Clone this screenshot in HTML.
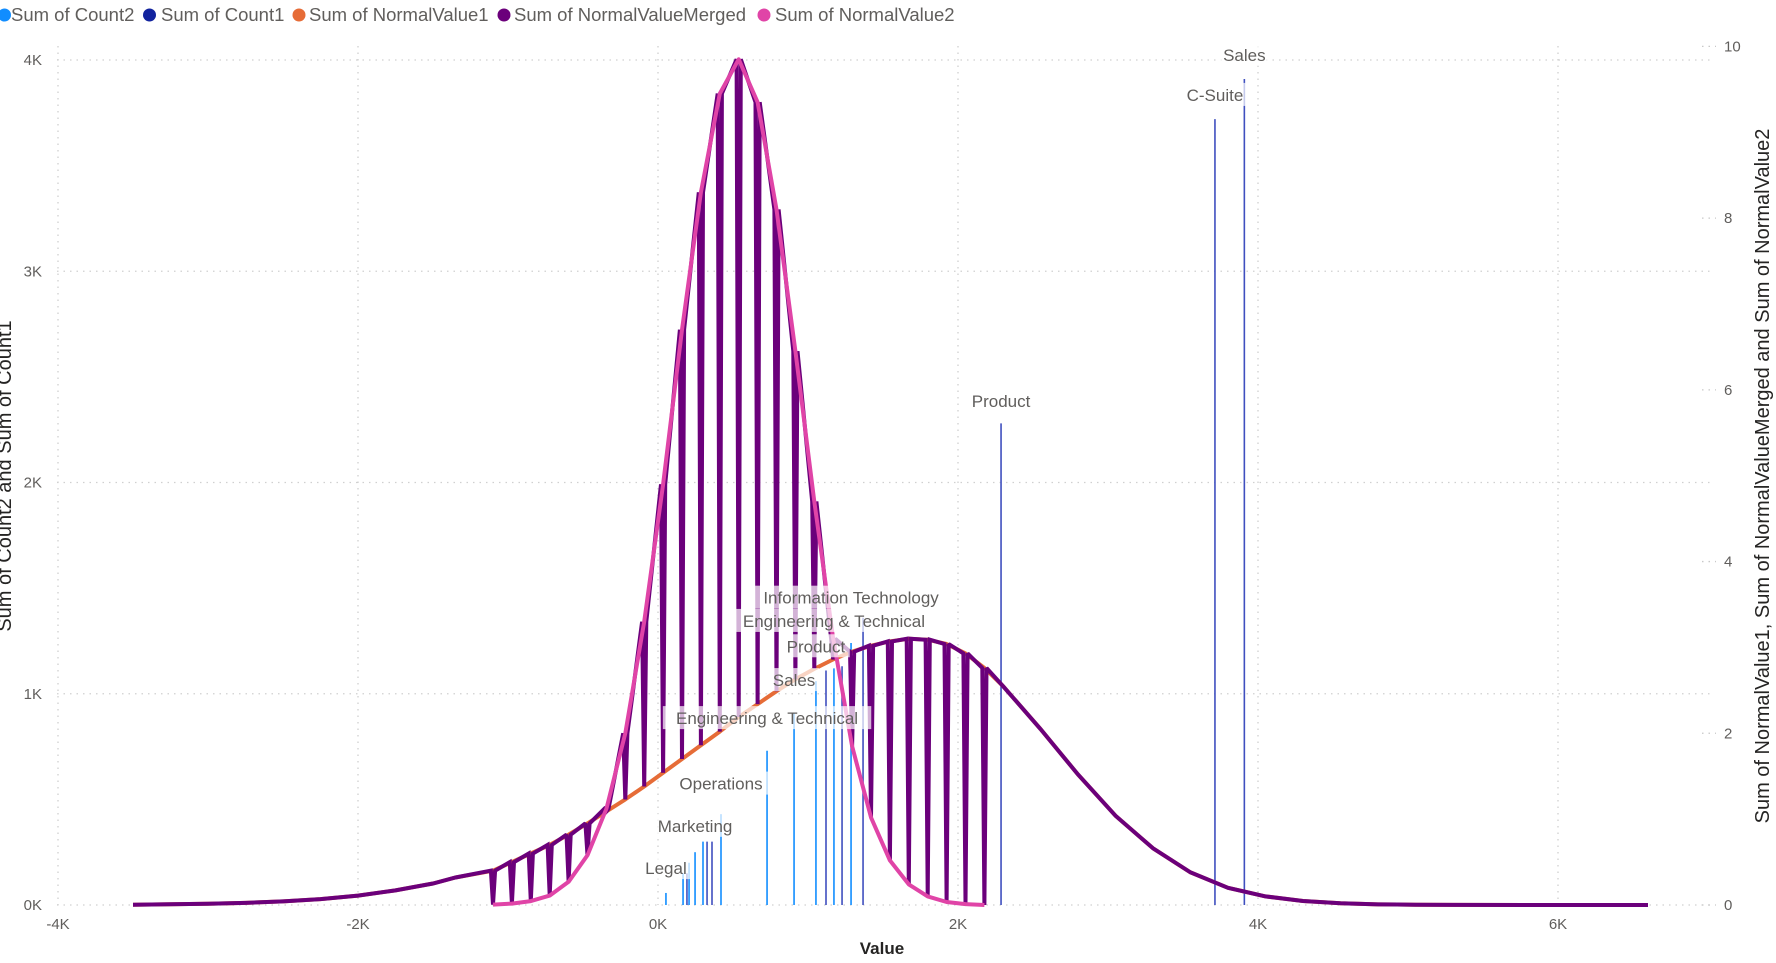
<!DOCTYPE html>
<html><head><meta charset="utf-8"><style>
html,body{margin:0;padding:0;background:#fff;}
svg{display:block;font-family:"Liberation Sans","DejaVu Sans",sans-serif;}
</style></head><body>
<svg id="chart" width="1776" height="963" viewBox="0 0 1776 963" xmlns="http://www.w3.org/2000/svg">
<g id="legend" font-size="18.5" fill="#605E5C">
 <g><circle cx="4.5" cy="15" r="6.5" fill="#118DFF"/><text x="11" y="21">Sum of Count2</text></g>
 <g><circle cx="149.5" cy="15" r="6.5" fill="#12239E"/><text x="161" y="21">Sum of Count1</text></g>
 <g><circle cx="299" cy="15" r="6.5" fill="#E66C37"/><text x="309" y="21">Sum of NormalValue1</text></g>
 <g><circle cx="504" cy="15" r="6.5" fill="#6B007B"/><text x="514" y="21">Sum of NormalValueMerged</text></g>
 <g><circle cx="764" cy="15" r="6.5" fill="#E044A7"/><text x="775" y="21">Sum of NormalValue2</text></g>
</g>
<g id="grid"></g>
<g id="axes" font-size="15" fill="#605E5C"></g>
<g id="bars"></g>
<g id="lines"></g>
<g id="labels" font-size="17" fill="#605E5C"></g>
<text x="882" y="954" text-anchor="middle" font-size="17" font-weight="bold" fill="#252423">Value</text>
<text transform="translate(11,476) rotate(-90)" text-anchor="middle" font-size="20" fill="#252423">Sum of Count2 and Sum of Count1</text>
<text transform="translate(1769,476) rotate(-90)" text-anchor="middle" font-size="20" fill="#252423">Sum of NormalValue1, Sum of NormalValueMerged and Sum of NormalValue2</text>
</svg>
<script>
const xTicks = [-4000,-2000,0,2000,4000,6000];
const xTickLabels = ["-4K","-2K","0K","2K","4K","6K"];
const leftTicks = [0,1000,2000,3000,4000];
const leftTickLabels = ["0K","1K","2K","3K","4K"];
const rightTicks = [0,2,4,6,8,10];
const rightTickLabels = ["0","2","4","6","8","10"];

const orangeLeftX = [-3500,-3250,-3000,-2750,-2500,-2250,-2000,-1750,-1500,-1350];
const orangeLeftY = [0.004,0.008,0.015,0.025,0.042,0.069,0.11,0.17,0.25,0.32];
const midX = [-1100,-974,-848,-722,-596,-470,-344,-218,-92,34,160,286,412,538,664,790,916,1042,1168,1294,1420,1546,1672,1798,1924,2050,2176];
const orangeMidY = [0.40,0.50,0.60,0.70,0.82,0.95,1.09,1.23,1.38,1.54,1.70,1.86,2.02,2.19,2.34,2.49,2.63,2.75,2.86,2.95,3.02,3.07,3.10,3.09,3.04,2.93,2.76];
const orangeRightX = [2300,2550,2800,3050,3300,3550,3800,4050,4300,4550,4800,5050,5300,5800,6300,6600];
const orangeRightY = [2.55,2.05,1.52,1.04,0.66,0.38,0.20,0.10,0.047,0.020,0.0075,0.003,0.001,0.0003,0.0001,0];
const pinkX = [-1100,-974,-848,-722,-596,-470,-344,-218,-92,34,160,286,412,538,664,790,916,1042,1168,1294,1420,1546,1672,1798,1924,2050,2176];
const pinkY = [0.005,0.016,0.045,0.11,0.27,0.58,1.12,2.0,3.3,4.9,6.7,8.3,9.45,9.85,9.35,8.1,6.45,4.7,3.1,1.85,1.02,0.52,0.24,0.10,0.035,0.01,0];

const barX = [53,167,193,207,247,300,327,360,420,727,907,1053,1120,1173,1227,1287,1367,2287,3713,3909];
const barVal = [57,150,150,200,250,300,300,300,430,730,910,1060,1110,1120,1130,1240,1360,2280,3720,3910];
const barSeries = [2,2,1,2,2,2,1,1,2,2,2,2,1,2,1,2,1,1,1,1];

const labelText = ["Legal","Marketing","Operations","Engineering & Technical","Sales","Product","Engineering & Technical","Information Technology","Product","C-Suite","Sales"];
const labelX = [53,247,420,727,907,1053,1173,1287,2287,3713,3909];
const labelVal = [170,370,570,880,1060,1220,1340,1450,2380,3830,4020];

const X0=658, XS=0.15, YB=905, LS=(905-60)/4000, RS=(905-46.4)/10;
function sx(v){return X0+v*XS;}
function syL(v){return YB-v*LS;}
function syR(v){return YB-v*RS;}
const NS="http://www.w3.org/2000/svg";
function mk(tag,attrs,parent){const e=document.createElementNS(NS,tag);for(const k in attrs)e.setAttribute(k,attrs[k]);parent.appendChild(e);return e;}

const grid=document.getElementById('grid');
const axes=document.getElementById('axes');
leftTicks.forEach((t,i)=>{
  const l=mk('line',{x1:57,x2:1712,y1:syL(t),y2:syL(t),stroke:'#D0D0D0','stroke-width':1.3,'stroke-dasharray':'1.5 5'},grid);
  
  
  const tx=mk('text',{x:42,y:syL(t)+5,'text-anchor':'end'},axes);
  tx.textContent=leftTickLabels[i];
  
  
});
xTicks.forEach((t,i)=>{
  const l=mk('line',{x1:sx(t),x2:sx(t),y1:46,y2:905,stroke:'#D0D0D0','stroke-width':1.3,'stroke-dasharray':'1.5 5'},grid);
  
  
  const tx=mk('text',{x:sx(t),y:929,'text-anchor':'middle'},axes);
  tx.textContent=xTickLabels[i];
  
  
});
rightTicks.forEach((t,i)=>{
  const l=mk('line',{x1:1702,x2:1716,y1:syR(t),y2:syR(t),stroke:'#C8C8C8','stroke-width':1.3,'stroke-dasharray':'1.5 5'},grid);
  
  
  const tx=mk('text',{x:1724,y:syR(t)+5,'text-anchor':'start'},axes);
  tx.textContent=rightTickLabels[i];
  
  
});

const bars=document.getElementById('bars');
barX.forEach((v,i)=>{
  const c = barSeries[i]===2 ? '#118DFF' : '#3F4FBF';
  const b=mk('line',{x1:sx(v),x2:sx(v),y1:YB,y2:syL(barVal[i]),stroke:c,'stroke-width':1.6},bars);
  
  
});

function pts(xs,ys){return xs.map((x,i)=>sx(x).toFixed(1)+','+syR(ys[i]).toFixed(1)).join(' ');}
function pathFromPairs(xs,ys){return 'M'+xs.map((x,i)=>sx(x).toFixed(1)+','+syR(ys[i]).toFixed(1)).join(' L');}
const lines=document.getElementById('lines');
const oX=orangeLeftX.concat(midX,orangeRightX), oY=orangeLeftY.concat(orangeMidY,orangeRightY);
const o=mk('polyline',{points:pts(oX,oY),fill:'none',stroke:'#E66C37','stroke-width':4,'stroke-linejoin':'round'},lines);


// merged: follows the upper series, dipping to the lower one at each sample
let mX=orangeLeftX.slice(), mY=orangeLeftY.slice();
const d=14;
midX.forEach((x,i)=>{
  const hi=Math.max(orangeMidY[i],pinkY[i]), lo=Math.min(orangeMidY[i],pinkY[i]);
  mX.push(x-d);mY.push(hi);
  mX.push(x);mY.push(lo);
  mX.push(x+d);mY.push(hi);
});
mX=mX.concat(orangeRightX); mY=mY.concat(orangeRightY);
const m=mk('polyline',{points:pts(mX,mY),fill:'none',stroke:'#6B007B','stroke-width':4,'stroke-linejoin':'miter','stroke-miterlimit':2},lines);


const p=mk('polyline',{points:pts(pinkX,pinkY),fill:'none',stroke:'#E044A7','stroke-width':4,'stroke-linejoin':'round'},lines);



const labels=document.getElementById('labels');
labelText.forEach((t,i)=>{
  const cx=sx(labelX[i]), cy=syL(labelVal[i]);
  const w=t.length*8.8+6;
  const r=mk('rect',{x:cx-w/2,y:cy-13,width:w,height:23,fill:'#fff','fill-opacity':0.7},labels);
  
  
  const tx=mk('text',{x:cx,y:cy+5,'text-anchor':'middle'},labels);
  tx.textContent=t;
  
  
});
</script>
</body></html>
